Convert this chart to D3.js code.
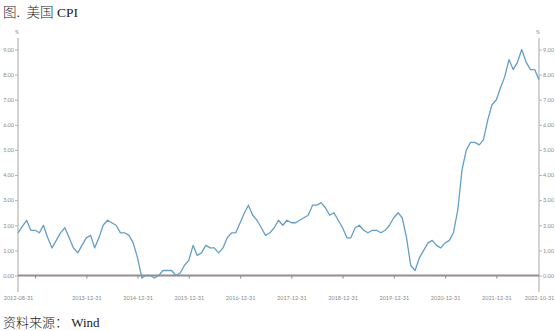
<!DOCTYPE html>
<html>
<head>
<meta charset="utf-8">
<script src="https://cdn.jsdelivr.net/npm/d3@7"></script>
<style>
  body { margin: 0; background: #fff; }
  .tick text { font-family: Lato, "DejaVu Sans", sans-serif; fill: #8a8a8a; }
  .cn { font-family: "Liberation Serif", "Noto Sans CJK SC", serif; fill: #1a1a1a; font-weight: 300; white-space: pre; }
</style>
</head>
<body>
<div id="chart"></div>
<script>
// US CPI year-on-year, monthly, 2012-08 .. 2022-10
const startMonth = "2012-08-31",
      endMonth = "2022-10-31";

const cpi = [
  1.7, 1.95, 2.2, 1.8, 1.8,
  1.7, 2.0, 1.5, 1.1, 1.4, 1.7, 1.9, 1.5, 1.1, 0.9, 1.2, 1.5,
  1.6, 1.1, 1.5, 2.0, 2.2, 2.1, 2.0, 1.7, 1.7, 1.6, 1.3, 0.7,
  -0.1, 0.0, 0.0, -0.1, 0.0, 0.2, 0.2, 0.2, 0.0, 0.1, 0.4, 0.6,
  1.2, 0.8, 0.9, 1.2, 1.1, 1.1, 0.9, 1.1, 1.5, 1.7, 1.7, 2.1,
  2.5, 2.8, 2.4, 2.2, 1.9, 1.6, 1.7, 1.9, 2.2, 2.0, 2.2, 2.1,
  2.1, 2.2, 2.3, 2.4, 2.8, 2.8, 2.9, 2.7, 2.4, 2.5, 2.2, 1.9,
  1.5, 1.5, 1.9, 2.0, 1.8, 1.7, 1.8, 1.8, 1.7, 1.8, 2.0, 2.3,
  2.5, 2.3, 1.5, 0.4, 0.2, 0.7, 1.0, 1.3, 1.4, 1.2, 1.1, 1.3,
  1.4, 1.7, 2.6, 4.2, 5.0, 5.3, 5.3, 5.2, 5.4, 6.2, 6.8, 7.0,
  7.5, 7.9, 8.6, 8.2, 8.5, 9.0, 8.5, 8.2, 8.2, 7.8
];

const tickDates = ["2012-08-31", "2012-12-31", "2013-12-31", "2014-12-31", "2015-12-31",
                   "2016-12-31", "2017-12-31", "2018-12-31", "2019-12-31", "2020-12-31",
                   "2021-12-31", "2022-10-31"];
const tickLabels = ["2012-08-31", "", "2013-12-31", "2014-12-31", "2015-12-31",
                    "2016-12-31", "2017-12-31", "2018-12-31", "2019-12-31", "2020-12-31",
                    "2021-12-31", "2022-10-31"];
const yTicks = [0, 1, 2, 3, 4, 5, 6, 7, 8, 9];

const width = 555, height = 331,
      margin = {top: 49.5, bottom: 55.5, left: 18, right: 16};

const parse = d3.utcParse("%Y-%m-%d");

// month-end dates for each value
const months = d3.utcMonth.range(d3.utcMonth.floor(parse(startMonth)), d3.utcMonth.offset(d3.utcMonth.floor(parse(endMonth)), 1))
    .map(m => d3.utcDay.offset(d3.utcMonth.offset(m, 1), -1));

const data = months.map((d, i) => ({date: d, value: cpi[i]}));

const xScale = d3.scaleUtc()
    .domain([parse(startMonth), parse(endMonth)])
    .range([margin.left, width - margin.right]);

const yScale = d3.scaleLinear()
    .domain([0, 9])
    .range([height - margin.bottom, margin.top]);

const svg = d3.select("#chart")
    .append("svg")
    .attr("width", width)
    .attr("height", height);

// titles
svg.append("text")
    .attr("class", "cn")
    .attr("x", 3)
    .attr("y", 17)
    .style("font-size", "13.5px")
    .text("图.  美国 CPI");

svg.append("text")
    .attr("class", "cn")
    .attr("x", 3)
    .attr("y", 327)
    .style("font-size", "13px")
    .text("资料来源： Wind");

// vertical axis lines (longer than the data range)
[margin.left, width - margin.right].forEach(x => {
    svg.append("line")
        .attr("x1", x).attr("x2", x)
        .attr("y1", yScale(9.46)).attr("y2", yScale(-0.66))
        .attr("stroke", "#c4c4c4")
        .attr("stroke-width", 1.5);
    svg.append("text")
        .attr("x", x - 1)
        .attr("y", 34)
        .attr("text-anchor", "middle")
        .style("font-family", "Lato, sans-serif")
        .style("font-size", "5px")
        .style("fill", "#8a8a8a")
        .text("%");
});

const fmt = d3.format(".2f");

const yLeft = svg.append("g")
    .attr("transform", `translate(${margin.left},0)`)
    .call(d3.axisLeft(yScale).tickValues(yTicks).tickFormat(fmt).tickSize(3).tickPadding(1));

const yRight = svg.append("g")
    .attr("transform", `translate(${width - margin.right},0)`)
    .call(d3.axisRight(yScale).tickValues(yTicks).tickFormat(fmt).tickSize(3).tickPadding(1));

[yLeft, yRight].forEach(g => {
    g.select(".domain").remove();
    g.selectAll(".tick line").attr("stroke", "#b5b5b5");
    g.selectAll(".tick text").style("font-size", "5.5px");
});

// zero line / x axis
const xAxis = svg.append("g")
    .attr("transform", `translate(0,${yScale(0)})`)
    .call(d3.axisBottom(xScale)
        .tickValues(tickDates.map(parse))
        .tickFormat((d, i) => tickLabels[i])
        .tickSize(3)
        .tickPadding(18));

xAxis.select(".domain").remove();
xAxis.selectAll(".tick line").attr("stroke", "#8f8587");
xAxis.selectAll(".tick text").style("font-size", "5.5px");
xAxis.selectAll(".tick").filter((d, i) => i === 0 || i === tickDates.length - 1).select("line").remove();

svg.append("line")
    .attr("x1", margin.left).attr("x2", width - margin.right)
    .attr("y1", yScale(0)).attr("y2", yScale(0))
    .attr("stroke", "#978c8e")
    .attr("stroke-width", 2);

const line = d3.line()
    .x(d => xScale(d.date))
    .y(d => yScale(d.value));

svg.append("path")
    .datum(data)
    .attr("fill", "none")
    .attr("stroke", "#629fc8")
    .attr("stroke-width", 1.3)
    .attr("stroke-linejoin", "round")
    .attr("d", line);
</script>
</body>
</html>
